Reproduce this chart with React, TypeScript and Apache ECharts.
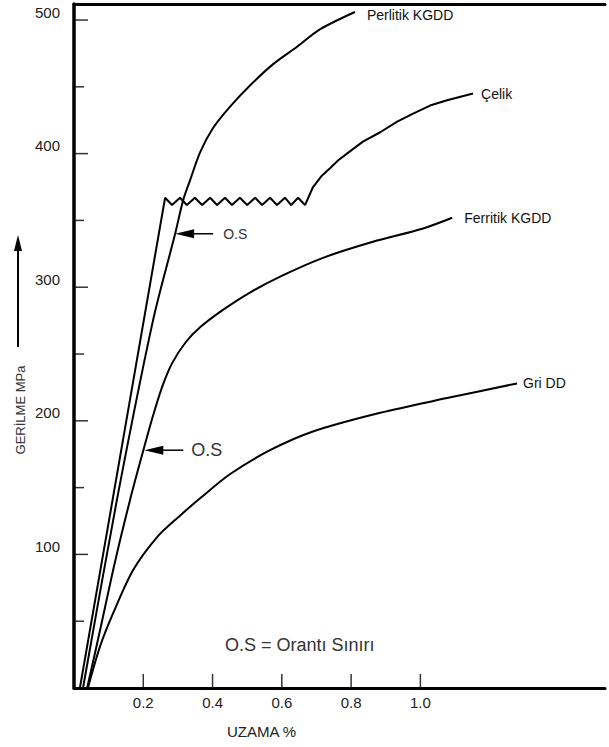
import React, { useEffect, useRef } from "react";
import * as echarts from "echarts";

const FONT = "'Liberation Sans', Arial, Helvetica, sans-serif";

// Axis ticks / labels
const xTicks = [0.2, 0.4, 0.6, 0.8, 1.0];
const yMajorTicks = [100, 200, 300, 400, 500];
const yMinorTicks = [50, 150, 250, 350, 450];

// Series names
const seriesNames = ["Perlitik KGDD", "Çelik", "Ferritik KGDD", "Gri DD"];

// Çelik (steel) – linear rise, yield plateau (zigzag), then hardening
const celik: [number, number][] = [
  [0.017, 0], [0.263, 367], [0.283, 361.5], [0.306, 367], [0.326, 361.5],
  [0.349, 367], [0.370, 361.5], [0.393, 367], [0.413, 361.5], [0.436, 367],
  [0.456, 361.5], [0.479, 367], [0.500, 361.5], [0.523, 367], [0.543, 361.5],
  [0.566, 367], [0.586, 361.5], [0.609, 367], [0.627, 361.5], [0.647, 367],
  [0.667, 361.5], [0.690, 375], [0.714, 383], [0.739, 389], [0.763, 395],
  [0.788, 400], [0.834, 409], [0.884, 416], [0.933, 424], [0.979, 430],
  [1.028, 436], [1.077, 440], [1.152, 445],
];

const perlitik: [number, number][] = [
  [0.026, 0], [0.124, 141], [0.228, 275], [0.292, 340], [0.315, 365],
  [0.335, 380], [0.364, 401], [0.401, 419], [0.450, 435], [0.508, 451],
  [0.575, 467], [0.644, 480], [0.710, 493], [0.811, 506],
];

const ferritik: [number, number][] = [
  [0.038, 0], [0.075, 43], [0.118, 94], [0.162, 141], [0.196, 174],
  [0.225, 201], [0.254, 225], [0.283, 243], [0.323, 259], [0.364, 270],
  [0.430, 283], [0.508, 296], [0.604, 309], [0.719, 322], [0.863, 334],
  [1.008, 344], [1.092, 352],
];

const gri: [number, number][] = [
  [0.040, 0], [0.075, 31], [0.113, 56], [0.170, 88], [0.240, 113],
  [0.306, 129], [0.364, 142], [0.450, 160], [0.566, 178], [0.690, 192],
  [0.884, 206], [1.077, 217], [1.279, 228],
];

// Proportional-limit (O.S) annotation points
const osUpper: [number, number] = [0.292, 340];
const osLower: [number, number] = [0.203, 178];

export default function App() {
  const ref = useRef<HTMLDivElement>(null);

  useEffect(() => {
    if (!ref.current) return;
    const chart = echarts.init(ref.current, null, { renderer: "svg" });

    const mk = (name: string, data: [number, number][], smooth: number | boolean, dist: number, off: number[]) => ({
      type: "line",
      name,
      data,
      smooth,
      showSymbol: false,
      symbol: "none",
      silent: true,
      lineStyle: { color: "#000", width: 2 },
      endLabel: {
        show: true,
        formatter: "{a}",
        distance: dist,
        offset: off,
        color: "#111",
        fontSize: 14,
        fontFamily: FONT,
      },
    });

    const tickSeries = (data: number[][], size: number[], offset: number[]) => ({
      type: "scatter",
      data,
      symbol: "rect",
      symbolSize: size,
      symbolOffset: offset,
      clip: false,
      silent: true,
      itemStyle: { color: "#000" },
      z: 5,
    });

    chart.setOption({
      animation: false,
      grid: { left: 74, right: 4, top: 4, bottom: 59, containLabel: false },
      xAxis: [
        {
          type: "value",
          min: 0,
          max: 1.533,
          position: "bottom",
          axisLine: { show: true, onZero: false, lineStyle: { color: "#000", width: 3 } },
          axisTick: { show: false },
          axisLabel: {
            customValues: xTicks,
            formatter: (v: number) => v.toFixed(1),
            fontSize: 15,
            color: "#222",
            margin: 7,
            fontFamily: FONT,
          },
          splitLine: { show: false },
        },
        {
          type: "value",
          min: 0,
          max: 1.533,
          position: "top",
          axisLine: { show: true, onZero: false, lineStyle: { color: "#000", width: 3 } },
          axisTick: { show: false },
          axisLabel: { show: false },
          splitLine: { show: false },
        },
      ],
      yAxis: [
        {
          type: "value",
          min: 0,
          max: 512,
          position: "left",
          axisLine: { show: true, onZero: false, lineStyle: { color: "#000", width: 3.5 } },
          axisTick: { show: false },
          axisLabel: {
            customValues: yMajorTicks,
            fontSize: 15,
            lineHeight: 16,
            color: "#222",
            margin: 14,
            fontFamily: FONT,
            verticalAlign: "bottom",
          },
          splitLine: { show: false },
        },
      ],
      series: [
        mk(seriesNames[0], perlitik, 0.3, 12, [0, 3]),
        mk(seriesNames[1], celik, false, 8, [0, 0]),
        mk(seriesNames[2], ferritik, 0.3, 12, [0, 0]),
        mk(seriesNames[3], gri, 0.3, 6, [0, 0]),
        tickSeries(yMajorTicks.map((v) => [0, v]), [14, 1.5], [7, 0]),
        tickSeries(yMinorTicks.map((v) => [0, v]), [10, 1.5], [5, 0]),
        tickSeries(xTicks.map((v) => [v, 0]), [1.5, 14], [0, -7]),
      ],
    });

    const p1 = chart.convertToPixel({ xAxisIndex: 0, yAxisIndex: 0 }, osUpper) as number[];
    const p2 = chart.convertToPixel({ xAxisIndex: 0, yAxisIndex: 0 }, osLower) as number[];

    const arrow = (p: number[], len: number, textGap: number, fs: number) => [
      {
        type: "line",
        shape: { x1: p[0] + 15, y1: p[1], x2: p[0] + len, y2: p[1] },
        style: { stroke: "#000", lineWidth: 1.5 },
      },
      {
        type: "polygon",
        shape: { points: [[p[0], p[1]], [p[0] + 19, p[1] - 4.5], [p[0] + 19, p[1] + 4.5]] },
        style: { fill: "#000" },
      },
      {
        type: "text",
        x: p[0] + textGap,
        y: p[1],
        style: { text: "O.S", fontSize: fs, fill: "#333", fontFamily: FONT, align: "left", verticalAlign: "middle" },
      },
    ];

    chart.setOption({
      graphic: [
        ...arrow(p1, 38, 48, 14),
        ...arrow(p2, 39, 47, 18),
        {
          type: "text",
          x: 20,
          y: 410,
          rotation: Math.PI / 2,
          style: { text: "GERİLME MPa", fontSize: 13, fill: "#333", fontFamily: FONT, align: "center", verticalAlign: "middle" },
        },
        {
          type: "line",
          shape: { x1: 18, y1: 347, x2: 18, y2: 248 },
          style: { stroke: "#000", lineWidth: 2 },
        },
        {
          type: "polygon",
          shape: { points: [[18, 235], [14, 251], [22, 251]] },
          style: { fill: "#000" },
        },
        {
          type: "text",
          x: 225,
          y: 645,
          style: { text: "O.S = Orantı Sınırı", fontSize: 18, fill: "#333", fontFamily: FONT, align: "left", verticalAlign: "middle" },
        },
        {
          type: "text",
          x: 227,
          y: 731,
          style: { text: "UZAMA %", fontSize: 15, fill: "#222", fontFamily: FONT, align: "left", verticalAlign: "middle" },
        },
      ],
    });

    return () => chart.dispose();
  }, []);

  return (
    <div
      ref={ref}
      style={{ position: "absolute", left: 0, top: 0, width: 609, height: 747, background: "#fff" }}
    />
  );
}
